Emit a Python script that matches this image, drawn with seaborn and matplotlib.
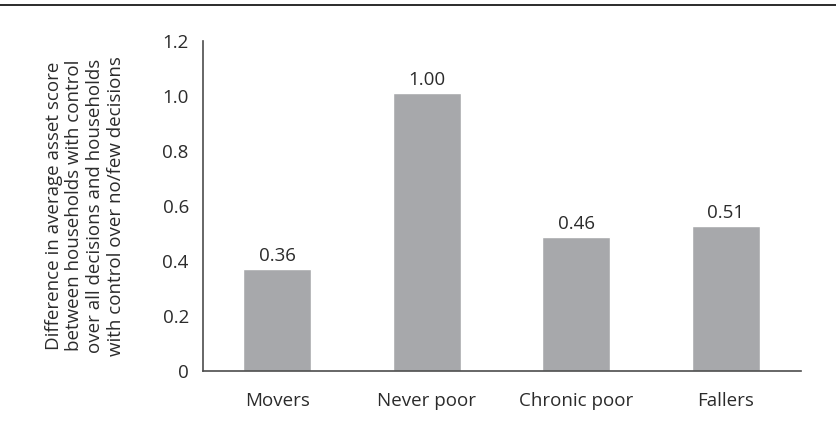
import matplotlib

matplotlib.use("Agg")

import matplotlib.pyplot as plt
import numpy as np
import pandas as pd
import seaborn as sns
from matplotlib.lines import Line2D
from matplotlib.ticker import FixedLocator


CATEGORIES = ["Movers", "Never poor", "Chronic poor", "Fallers"]
BAR_HEIGHTS = [0.37, 1.01, 0.487, 0.526]
BAR_LABELS = ["0.36", "1.00", "0.46", "0.51"]
Y_TICKS = [0, 0.2, 0.4, 0.6, 0.8, 1.0, 1.2]
Y_TICK_LABELS = ["0", "0.2", "0.4", "0.6", "0.8", "1.0", "1.2"]
Y_LABEL = (
    "Difference in average asset score\n"
    "between households with control\n"
    "over all decisions and households\n"
    "with control over no/few decisions"
)

BAR_COLOR = "#a7a8ab"
AXIS_COLOR = "#4d4d4d"
TEXT_COLOR = "#2b2b2b"
FONT_SIZE = 13.5


def main() -> None:
    sns.set_style("white")
    plt.rcParams["font.family"] = ["Open Sans", "DejaVu Sans"]
    plt.rcParams["font.size"] = FONT_SIZE

    df = pd.DataFrame({"group": CATEGORIES, "value": BAR_HEIGHTS})

    fig = plt.figure(figsize=(8.37, 4.28), dpi=100)
    ax = fig.add_axes([0.2422, 0.1339, 0.7144, 0.771])

    sns.barplot(data=df, x="group", y="value", color=BAR_COLOR, width=0.455,
                saturation=1, ax=ax)

    ax.bar_label(ax.containers[0], labels=BAR_LABELS, padding=3,
                 fontsize=FONT_SIZE, color=TEXT_COLOR)

    ax.set_xlim(-0.5, len(CATEGORIES) - 0.5)
    ax.set_ylim(0, 1.2)
    ax.set_yticks(Y_TICKS)
    ax.set_yticklabels(Y_TICK_LABELS)

    # category labels sit between boundary ticks
    ax.xaxis.set_minor_locator(FixedLocator(np.arange(-0.5, len(CATEGORIES), 1.0)))
    ax.tick_params(axis="x", which="major", length=0, pad=15,
                   labelsize=FONT_SIZE, labelcolor=TEXT_COLOR)
    ax.tick_params(axis="x", which="minor", length=6, width=1.2,
                   direction="out", color=AXIS_COLOR)
    ax.tick_params(axis="y", length=6, width=1.2, direction="out",
                   color=AXIS_COLOR, labelsize=FONT_SIZE, labelcolor=TEXT_COLOR, pad=4)

    ax.set_xlabel("")
    ax.set_ylabel(Y_LABEL, fontsize=FONT_SIZE, color=TEXT_COLOR, linespacing=1.2,
                  labelpad=27)

    for side in ["top", "right"]:
        ax.spines[side].set_visible(False)
    for side in ["left", "bottom"]:
        ax.spines[side].set_color(AXIS_COLOR)
        ax.spines[side].set_linewidth(1.2)

    fig.add_artist(Line2D([0, 1], [1 - 5 / 428, 1 - 5 / 428],
                          transform=fig.transFigure, color="#1a1a1a", linewidth=1.3))

    fig.savefig("out.png", dpi=100)
    plt.close(fig)


if __name__ == "__main__":
    main()
